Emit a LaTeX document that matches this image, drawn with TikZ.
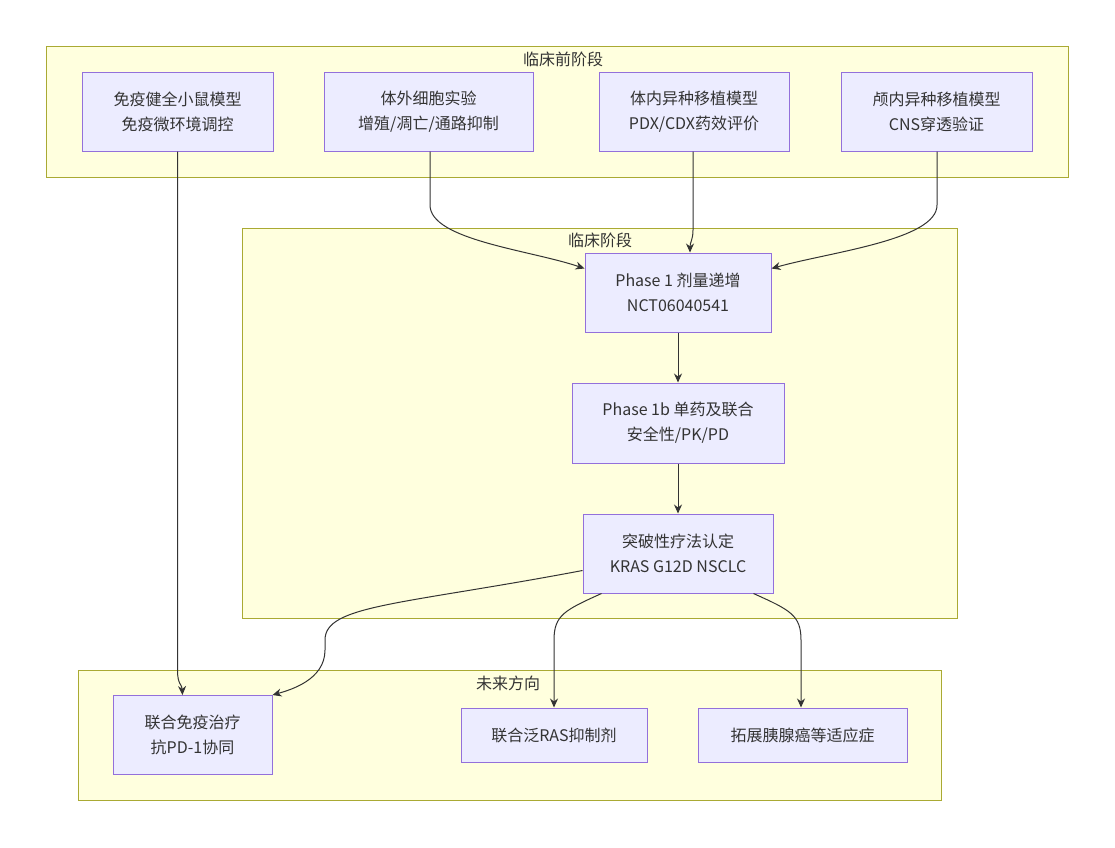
\documentclass[tikz,border=0pt]{standalone}
\usepackage{fontspec}
\setmainfont{Noto Sans CJK SC}
\usetikzlibrary{arrows.meta}
\definecolor{clfill}{HTML}{FFFFDE}
\definecolor{cldraw}{HTML}{AAAA33}
\definecolor{ndfill}{HTML}{ECECFF}
\definecolor{nddraw}{HTML}{9370DB}
\definecolor{txt}{HTML}{333333}
\tikzset{
  cluster/.style={draw=cldraw, fill=clfill, line width=1pt},
  cltitle/.style={text=txt, font=\fontsize{16}{20}\selectfont, inner sep=0pt},
  box/.style={draw=nddraw, fill=ndfill, line width=1pt, text=txt, align=center,
    font=\fontsize{16}{25}\selectfont, inner sep=0pt},
  arr/.style={draw=txt, line width=1pt, -{Stealth[length=9pt,width=8pt]}},
}
\begin{document}
\begin{tikzpicture}[x=1pt,y=-1pt]
\useasboundingbox (0,0) rectangle (1115,847);
\fill[white] (0,0) rectangle (1115,847);
% clusters
\draw[cluster] (46,46) rectangle (1068,177);
\node[cltitle] (t1) at (563,59) {临床前阶段};
\draw[cluster] (242,228) rectangle (957,618);
\node[cltitle] (t2) at (600,240) {临床阶段};
\draw[cluster] (78,670) rectangle (941,800);
\node[cltitle] (t3) at (508,683) {未来方向};
% nodes
\node[box, minimum width=191pt, minimum height=79pt] (A) at (177.5,111.5) {免疫健全小鼠模型\\免疫微环境调控};
\node[box, minimum width=209pt, minimum height=79pt] (B) at (428.5,111.5) {体外细胞实验\\增殖/凋亡/通路抑制};
\node[box, minimum width=190pt, minimum height=79pt] (C) at (694,111.5) {体内异种移植模型\\PDX/CDX药效评价};
\node[box, minimum width=191pt, minimum height=79pt] (D) at (936.5,111.5) {颅内异种移植模型\\CNS穿透验证};
\node[box, minimum width=186pt, minimum height=79pt] (E) at (678,292.5) {Phase 1 剂量递增\\NCT06040541};
\node[box, minimum width=212pt, minimum height=80pt] (F) at (678,423) {Phase 1b 单药及联合\\安全性/PK/PD};
\node[box, minimum width=190pt, minimum height=79pt] (G) at (678,553.5) {突破性疗法认定\\KRAS G12D NSCLC};
\node[box, minimum width=159pt, minimum height=79pt] (H) at (192.5,735) {联合免疫治疗\\抗PD-1协同};
\node[box, minimum width=186pt, minimum height=54pt] (I) at (554,735) {联合泛RAS抑制剂};
\node[box, minimum width=209pt, minimum height=54pt] (J) at (802.5,735) {拓展胰腺癌等适应症};
% edges
\draw[arr] (A.south) -- (177.5,670) .. controls (177.5,685) and (182,684) .. ([xshift=-10pt]H.north);
\draw[arr] ([xshift=1.5pt]B.south) -- (430,205) .. controls (430,240) and (530,250) .. ([yshift=24pt]E.west);
\draw[arr] ([xshift=-1pt]C.south) -- (693,230) .. controls (693,240) and (690,242) .. ([xshift=12pt]E.north);
\draw[arr] ([xshift=0.5pt]D.south) -- (937,205) .. controls (937,240) and (830,252) .. ([yshift=24pt]E.east);
\draw[arr] (E.south) -- (F.north);
\draw[arr] (F.south) -- (G.north);
\draw[arr] ([yshift=-17pt]G.west) .. controls (400,605) and (325,605) .. (325,640) -- (325,650) .. controls (325,680) and (290,690) .. (H.north east);
\draw[arr] ([xshift=19pt]G.south west) .. controls (565,610) and (554,615) .. (554,640) -- (I.north);
\draw[arr] ([xshift=-20pt]G.south east) .. controls (790,610) and (801,615) .. (801,640) -- ([xshift=-1.5pt]J.north);
\end{tikzpicture}
\end{document}
